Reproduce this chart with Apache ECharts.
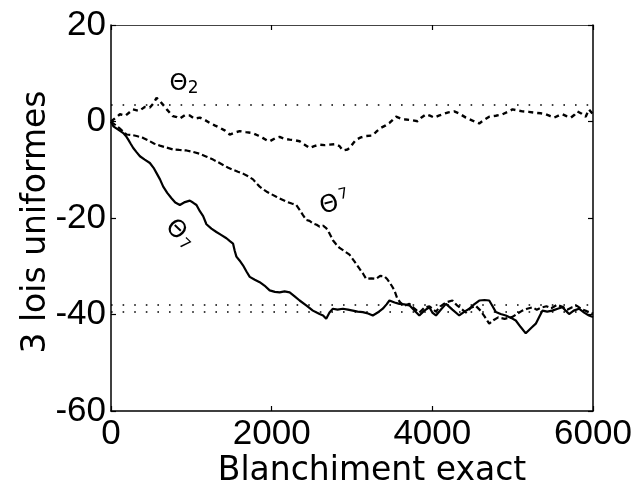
<!DOCTYPE html>
<html>
<head>
<meta charset="utf-8">
<script src="https://cdn.jsdelivr.net/npm/echarts@6/dist/echarts.min.js"></script>
<style>
html,body{margin:0;padding:0;background:#fff;}
#chart{width:637px;height:495px;}
</style>
</head>
<body>
<div id="chart"></div>
<script>
// X ticks / Y ticks
const xTicks = [0, 2000, 4000, 6000];
const yTicks = [-60, -40, -20, 0, 20];
// Reference (true) values, dotted
const refLevels = [3.5, -38, -39.5];

// theta2 (dashed, top)
const theta2 = [
[0,0],[60,0.8],[111,1.5],[180,1.2],[273,2.5],[350,2.2],[420,3],[484,2.9],[530,3.8],[567,4.9],[610,4.2],[646,3.5],[700,2.4],[770,1.1],[820,0.9],[857,0.6],[920,1.3],[981,1.25],[1040,0.6],[1106,0.8],[1170,0.3],[1230,-0.3],[1290,-0.8],[1354,-1.3],[1420,-1.9],[1478,-2.7],[1540,-2.3],[1602,-2],[1680,-2.2],[1764,-2.4],[1830,-2.9],[1888,-3.4],[1940,-3.9],[1975,-4.1],[2040,-3.5],[2099,-3.2],[2160,-3.6],[2224,-3.75],[2290,-3.9],[2348,-4.1],[2410,-4.8],[2472,-5.5],[2530,-5.1],[2596,-4.8],[2660,-4.9],[2720,-4.8],[2790,-4.7],[2845,-5.1],[2885,-6],[2944,-5.8],[2969,-5.5],[3010,-4.6],[3052,-3.75],[3110,-3.3],[3176,-3],[3255,-2.9],[3310,-2.0],[3363,-1.3],[3420,-0.8],[3466,-0.3],[3510,0.4],[3549,1],[3610,0.6],[3673,0.4],[3740,0.3],[3817,0.06],[3870,0.9],[3921,1.5],[3970,1.2],[4025,0.8],[4080,1.2],[4128,1.5],[4200,1.9],[4273,2.1],[4340,1.6],[4418,0.8],[4500,0.2],[4584,-0.4],[4650,0.4],[4708,1],[4790,1.2],[4874,1.5],[4940,2.0],[4998,2.5],[5060,2.3],[5122,2.1],[5200,2.0],[5288,1.8],[5350,1.7],[5412,1.5],[5470,1.1],[5516,0.8],[5570,1.2],[5619,1.5],[5670,1.1],[5723,0.8],[5770,1.4],[5805,2.1],[5860,1.6],[5909,1],[5950,2.5],[6000,1.5]
];

// theta3 (dashed, middle)
const theta3 = [
[0,0],[60,-0.8],[120,-1.6],[195,-2.7],[260,-2.8],[319,-3],[400,-3.4],[484,-4.1],[540,-4.6],[608,-5],[690,-5.4],[774,-5.8],[850,-5.9],[939,-6],[1020,-6.3],[1106,-6.7],[1190,-7.3],[1271,-7.9],[1330,-8.4],[1395,-9],[1460,-9.6],[1519,-10],[1580,-10.4],[1643,-10.8],[1700,-11.3],[1768,-12],[1810,-12.8],[1851,-13.5],[1890,-14],[1934,-14.5],[2000,-15.1],[2058,-15.6],[2120,-16.1],[2182,-16.6],[2250,-17],[2306,-17.3],[2348,-18.3],[2390,-19.4],[2431,-20.4],[2472,-20.6],[2513,-21.1],[2560,-21.4],[2596,-21.8],[2640,-21.6],[2679,-22.1],[2720,-23.2],[2762,-24.6],[2800,-25.4],[2845,-26.2],[2900,-26.8],[2969,-27.6],[3030,-29.0],[3093,-30.5],[3140,-31.6],[3176,-32.6],[3240,-32.5],[3300,-32.6],[3350,-32.0],[3404,-32.1],[3440,-32.7],[3466,-33.3],[3500,-34.2],[3528,-35],[3560,-36.5],[3600,-37.5],[3650,-38.2],[3714,-37.8],[3780,-38.8],[3838,-39.6],[3900,-38.6],[3963,-38.3],[4045,-39.4],[4100,-38.3],[4170,-37.5],[4249,-37.1],[4300,-38.0],[4360,-38.8],[4420,-39.6],[4480,-38.6],[4540,-38.2],[4600,-39.2],[4654,-40.5],[4708,-41.9],[4760,-41.2],[4820,-40.6],[4900,-40.9],[4998,-40.5],[5060,-39.8],[5120,-39.2],[5180,-38.8],[5246,-38.5],[5300,-39.0],[5350,-38.6],[5420,-38.3],[5480,-38.7],[5550,-38.0],[5619,-38.4],[5680,-39.0],[5740,-38.5],[5800,-38.2],[5860,-38.9],[5920,-39.3],[6000,-39.8]
];

// theta1 (solid, bottom)
const theta1 = [
[0,0],[29,-1],[90,-1.7],[153,-2.4],[185,-3.0],[215,-3.75],[245,-4.6],[277,-5.5],[320,-6.4],[360,-7.2],[420,-7.9],[484,-8.6],[530,-9.6],[567,-10.7],[610,-12.0],[650,-13.5],[700,-14.8],[753,-15.9],[800,-16.8],[857,-17.3],[920,-16.7],[981,-16.4],[1020,-16.8],[1064,-17.3],[1106,-18.6],[1147,-19.6],[1188,-21.3],[1250,-22.2],[1312,-22.9],[1370,-23.5],[1437,-24.2],[1480,-24.8],[1519,-25.3],[1540,-26.8],[1561,-28],[1600,-28.8],[1643,-29.8],[1690,-31.2],[1727,-32.2],[1790,-32.8],[1851,-33.3],[1910,-34.0],[1975,-35],[2040,-35.3],[2099,-35.4],[2160,-35.2],[2224,-35.4],[2290,-36.3],[2348,-37.1],[2430,-38.1],[2513,-39.2],[2560,-39.6],[2596,-39.9],[2640,-40.2],[2679,-40.9],[2720,-39.6],[2762,-38.8],[2820,-39.0],[2886,-38.8],[2950,-39.0],[3010,-39.2],[3070,-39.4],[3134,-39.5],[3200,-39.8],[3259,-40.2],[3320,-39.6],[3383,-38.8],[3430,-37.9],[3466,-37.1],[3530,-37.5],[3590,-37.8],[3650,-37.9],[3714,-38.1],[3780,-39.2],[3838,-40.2],[3900,-39.2],[3963,-38.5],[4000,-39.6],[4045,-40.2],[4110,-38.9],[4170,-37.8],[4250,-39.0],[4335,-40.2],[4400,-39.4],[4460,-38.8],[4520,-37.9],[4584,-37.1],[4650,-37.0],[4708,-37.1],[4750,-38.3],[4791,-39.5],[4850,-39.9],[4915,-40.2],[4980,-40.7],[5039,-41.25],[5100,-42.6],[5163,-43.9],[5230,-42.8],[5288,-41.9],[5330,-40.5],[5370,-39.2],[5430,-39.4],[5494,-39.2],[5560,-38.8],[5619,-38.5],[5660,-39.2],[5702,-39.9],[5760,-39.2],[5826,-38.8],[5890,-39.6],[5950,-40.2],[6000,-40.5]
];

const xTitle = 'Blanchiment exact';
const yTitle = '3 lois uniformes';

const chart = echarts.init(document.getElementById('chart'), null, {renderer:'canvas'});
const tickFont = {fontFamily:'"Liberation Sans", Arial, sans-serif', fontSize:35, color:'#000', formatter:(v)=>String(v)};
const baseAxis = (extra) => Object.assign({
  type:'value',
  splitLine:{show:false},
  axisLine:{show:true, onZero:false, lineStyle:{color:'#000', width:1.5}},
  axisTick:{show:true, inside:true, length:5, lineStyle:{color:'#000', width:1.2}},
}, extra);

chart.setOption({
  animation:false,
  backgroundColor:'#fff',
  grid:{left:111, right:44, top:25, bottom:84, containLabel:false},
  xAxis:[
    baseAxis({min:xTicks[0], max:xTicks[xTicks.length-1], interval:2000, position:'bottom',
      axisLabel:Object.assign({margin:6}, tickFont)}),
    baseAxis({min:xTicks[0], max:xTicks[xTicks.length-1], interval:2000, position:'top',
      axisLine:{show:true, onZero:false, lineStyle:{color:'#444', width:1}},
      axisLabel:{show:false}})
  ],
  yAxis:[
    baseAxis({min:yTicks[0], max:yTicks[yTicks.length-1], interval:20, position:'left',
      axisLabel:Object.assign({margin:5}, tickFont)}),
    baseAxis({min:yTicks[0], max:yTicks[yTicks.length-1], interval:20, position:'right',
      axisLabel:{show:false}})
  ],
  series:[
    {type:'line', data:theta1, showSymbol:false, symbol:'none',
      lineStyle:{color:'#000', width:2.2}, z:3,
      markLine:{silent:true, symbol:['none','none'], label:{show:false},
        lineStyle:{color:'#000', width:1.6, type:[1.6,10]},
        data:refLevels.map(v=>({yAxis:v}))}},
    {type:'line', data:theta3, showSymbol:false, symbol:'none',
      lineStyle:{color:'#000', width:2.2, type:[6,3]}, z:2},
    {type:'line', data:theta2, showSymbol:false, symbol:'none',
      lineStyle:{color:'#000', width:2.4, type:[5,4]}, z:2}
  ],
  graphic:[
    {type:'text', x:372, y:471, style:{text:xTitle, fontFamily:'DejaVu Sans', fontSize:33, fill:'#000', textAlign:'center', textVerticalAlign:'middle'}},
    {type:'text', x:36, y:222, rotation:Math.PI/2, style:{text:yTitle, fontFamily:'DejaVu Sans', fontSize:33, fill:'#000', textAlign:'center', textVerticalAlign:'middle'}},
    {type:'text', x:184, y:84, style:{text:'{a|Θ}{b|2}', rich:{a:{fontFamily:'DejaVu Sans', fontSize:23, fill:'#000'}, b:{fontFamily:'DejaVu Sans', fontSize:17, fill:'#000', padding:[10,0,0,0]}}, textAlign:'center', textVerticalAlign:'middle'}},
    {type:'text', x:335, y:204, rotation:0.25, style:{text:'{a|Θ}{b|7}', rich:{a:{fontFamily:'DejaVu Sans', fontSize:24, fill:'#000'}, b:{fontFamily:'DejaVu Sans', fontSize:15, fill:'#000', padding:[0,0,14,2]}}, textAlign:'center', textVerticalAlign:'middle'}},
    {type:'text', x:180, y:234, rotation:-0.75, style:{text:'{a|Θ}{b|7}', rich:{a:{fontFamily:'DejaVu Sans', fontSize:24, fill:'#000'}, b:{fontFamily:'DejaVu Sans', fontSize:15, fill:'#000', padding:[10,0,0,2]}}, textAlign:'center', textVerticalAlign:'middle'}}
  ]
});
</script>
</body>
</html>
